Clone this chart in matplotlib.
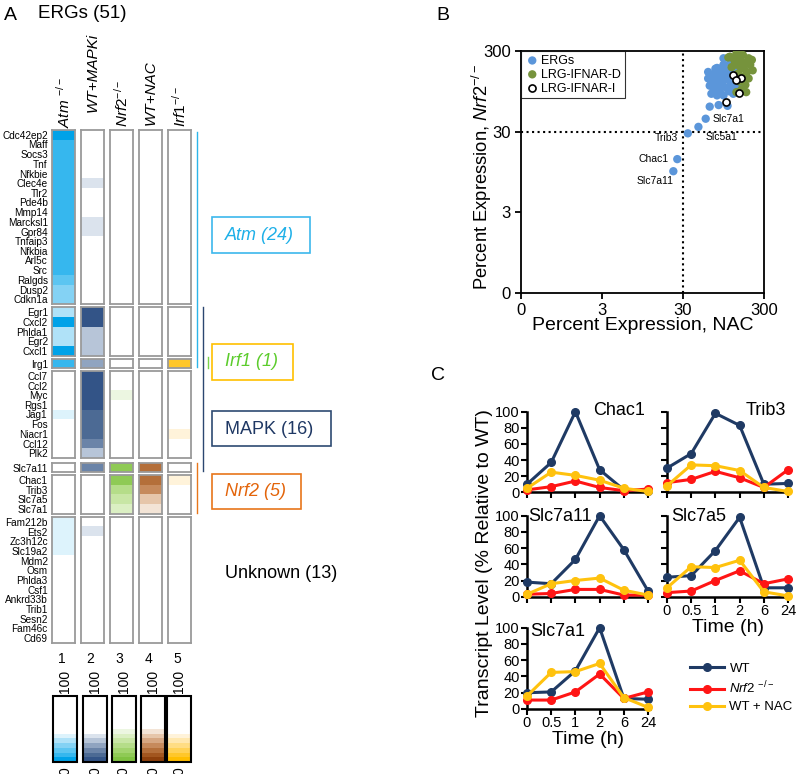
import numpy as np
import matplotlib.pyplot as plt
from matplotlib.colors import ListedColormap, Normalize
from matplotlib.cm import ScalarMappable
from matplotlib.lines import Line2D
from matplotlib.patches import Rectangle
from matplotlib.ticker import FixedLocator, NullLocator

plt.rcParams['font.family'] = ['Liberation Sans', 'DejaVu Sans']
plt.rcParams['mathtext.fontset'] = 'custom'
plt.rcParams['mathtext.rm'] = 'Liberation Sans'
plt.rcParams['mathtext.it'] = 'Liberation Sans:italic'
plt.rcParams['mathtext.bf'] = 'Liberation Sans:bold'

W, H = 800, 774
fig = plt.figure(figsize=(W/100, H/100), dpi=100)

def px_axes(x0, y0, x1, y1):
    return fig.add_axes([x0/W, 1-y1/H, (x1-x0)/W, (y1-y0)/H])

def fy(y):
    return 1 - y/H

#----------------------
# Panel A data (percent expression, 5 conditions)
cond_labels = [r'$\mathit{Atm}\ ^{-/-}$', 'WT+MAPKi', r'$\mathit{Nrf2}^{-/-}$', 'WT+NAC', r'$\mathit{Irf1}^{-/-}$']

atm_genes = ['Cdc42ep2','Maff','Socs3','Tnf','Nfkbie','Clec4e','Tlr2','Pde4b','Mmp14',
             'Marcksl1','Gpr84','Tnfaip3','Nfkbia','Arl5c','Src','Ralgds','Dusp2','Cdkn1a']
atm_vals = [[4,100,100,100,100],[9,100,100,100,100],[9,100,100,100,100],[9,100,100,100,100],
            [10,100,100,100,100],[10,40,100,100,100],[10,100,100,100,100],[10,100,100,100,100],
            [11,100,100,100,100],[11,40,100,100,100],[11,37,100,100,100],[11,100,100,100,100],
            [12,100,100,100,100],[12,100,100,100,100],[13,100,100,100,100],[18,100,100,100,100],
            [24,100,100,100,100],[27,100,100,100,100]]
mix_genes = ['Egr1','Cxcl2','Phlda1','Egr2','Cxcl1']
mix_vals = [[30,5,100,100,100],[4,5,100,100,100],[33,30,100,100,100],[30,30,100,100,100],[4,30,100,100,100]]
irg_genes = ['Irg1']
irg_vals = [[10,22,100,100,8]]
mapk_genes = ['Ccl7','Ccl2','Myc','Rgs1','Jag1','Fos','Niacr1','Ccl12','Plk2']
mapk_vals = [[100,5,100,100,100],[100,5,100,100,100],[100,5,49,100,100],[100,6,100,100,100],
             [40,10,100,100,100],[100,10,100,100,100],[100,10,100,100,41],[100,20,100,100,100],
             [100,30,100,100,100]]
slc11_genes = ['Slc7a11']
slc11_vals = [[100,20,9,18,100]]
nrf_genes = ['Chac1','Trib3','Slc7a5','Slc7a1']
nrf_vals = [[100,100,9,16,41],[100,100,22,28,100],[100,100,30,36,100],[100,100,38,46,100]]
unk_genes = ['Fam212b','Ets2','Zc3h12c','Slc19a2','Mdm2','Osm','Phlda3','Csf1','Ankrd33b',
             'Trib1','Sesn2','Fam46c','Cd69']
unk_vals = [[36,100,100,100,100],[36,38,100,100,100],[40,100,100,100,100],[40,100,100,100,100],
            [100,100,100,100,100],[100,43,100,100,100]] + [[100,100,100,100,100]]*7

groups = [(atm_genes, atm_vals, 130, 304), (mix_genes, mix_vals, 307, 356),
          (irg_genes, irg_vals, 359, 368), (mapk_genes, mapk_vals, 371, 458),
          (slc11_genes, slc11_vals, 463, 472), (nrf_genes, nrf_vals, 475, 514),
          (unk_genes, unk_vals, 517, 643)]

band_colors = [
    ['#00a2e8','#36b7ee','#5cc5f1','#84d2f4','#b0e2f8','#ddf3fc'],
    ['#335487','#4c6a94','#6b84a8','#90a4c0','#b7c5d8','#dbe3ed'],
    ['#7fc241','#8fca55','#a2d46e','#b5dd89','#c8e6a5','#dbefc3','#ecf6e1'],
    ['#8e400c','#a2561f','#b46f3a','#c68a5c','#d6a782','#e6c6aa','#f3e4d6'],
    ['#ffbe00','#ffc72a','#ffd256','#ffdd84','#ffe8b0','#fff3da'],
]
cmaps = [ListedColormap(b + ['white']*(14-len(b))) for b in band_colors]
norm = Normalize(0, 100)

col_left = [52, 81, 110, 139, 168]
col_w = 23

for genes, vals, y0, y1 in groups:
    arr = np.array(vals, dtype=float)
    for c in range(5):
        ax = px_axes(col_left[c], y0, col_left[c]+col_w, y1)
        ax.imshow(arr[:, c:c+1], cmap=cmaps[c], norm=norm, aspect='auto', interpolation='nearest')
        ax.set_xticks([])
        if c == 0:
            ax.set_yticks(range(len(genes)))
            ax.set_yticklabels(genes, fontsize=7.2)
            ax.tick_params(axis='y', length=0, pad=3)
        else:
            ax.set_yticks([])
        for s in ax.spines.values():
            s.set_color('#9a9a9a')
            s.set_linewidth(1.3)

# column headers
label_bottom = [128, 112, 127, 125, 127]
for c in range(5):
    fig.text((col_left[c]+col_w/2)/W, fy(label_bottom[c]), cond_labels[c], rotation=90,
             ha='center', va='bottom', fontsize=11, style='italic')
    fig.text((col_left[c]+col_w/2-2)/W, fy(659), str(c+1), ha='center', va='center', fontsize=10)

fig.text(10/W, fy(16), 'A', ha='center', va='center', fontsize=14)
fig.text(38/W, fy(14), 'ERGs (51)', ha='left', va='center', fontsize=13.5)

# colour scales
cb_left = [53, 83, 112, 141, 167]
for c in range(5):
    cax = px_axes(cb_left[c], 696, cb_left[c]+24, 762)
    cb = fig.colorbar(ScalarMappable(norm=norm, cmap=cmaps[c]), cax=cax)
    cb.set_ticks([])
    cb.outline.set_linewidth(1.5)
    cb.outline.set_edgecolor('black')
    fig.text((cb_left[c]+12)/W, fy(681), '100', rotation=90, ha='center', va='center', fontsize=10)
    fig.text((cb_left[c]+12)/W, fy(771), '0', rotation=90, ha='center', va='center', fontsize=10)

# group brackets and labels
def vline(x, y0, y1, color):
    fig.add_artist(Line2D([x/W, x/W], [fy(y0), fy(y1)], transform=fig.transFigure, color=color, lw=1))

def box(x0, y0, x1, y1, color):
    fig.add_artist(Rectangle((x0/W, fy(y1)), (x1-x0)/W, (y1-y0)/H, transform=fig.transFigure,
                             fill=False, edgecolor=color, lw=1.2))

vline(197, 132, 367, '#2cb5ea')
vline(203, 307, 471, '#2b4670')
vline(208, 357, 368, '#7ad34a')
vline(197, 463, 513, '#e8761a')

box(212, 217, 310, 253, '#3cb8ec')
fig.text(225/W, fy(235), 'Atm (24)', color='#1fb0e8', style='italic', fontsize=13, va='center')
box(212, 344, 293, 380, '#ffc000')
fig.text(225/W, fy(362), 'Irf1 (1)', color='#5ccc2c', style='italic', fontsize=13, va='center')
box(212, 411, 331, 446, '#2e4a72')
fig.text(225/W, fy(429), 'MAPK (16)', color='#1f3864', fontsize=13, va='center')
box(212, 474, 301, 509, '#e8761a')
fig.text(225/W, fy(492), 'Nrf2 (5)', color='#e3640a', style='italic', fontsize=13, va='center')
fig.text(225/W, fy(573), 'Unknown (13)', color='black', fontsize=13, va='center')

#----------------------
# Panel B data (percent expression)
erg_nac = [22.8,25.5,34.4,46.5,57.2,64.1,82.6,106.4,67.2,86.5,77.1,90.6,108.9,70.3,61.3,99.3,119.4,
           137.1,78.9,94.9,114.1,61.3,75.4,88.5,143.6,131.0,150.4,125.1,116.7,104.0,86.5,94.9,150.4,
           94.9,75.4,67.2,82.6,101.6,72.0,111.5,125.1,84.5,64.1,94.9,78.9,134.0,106.4,90.6,75.4,
           114.1,68.7]
erg_nrf2 = [9.7,13.7,28.6,34.4,43.4,61.3,64.1,62.7,88.5,90.6,111.5,125.1,131.0,140.3,137.1,143.6,
            150.4,164.9,185.0,202.8,212.4,164.9,157.4,153.9,111.5,104.0,92.7,88.5,116.7,104.0,108.9,
            84.5,125.1,243.8,180.8,119.4,131.0,168.7,99.3,94.9,119.4,180.8,111.5,108.9,84.5,137.1,
            150.4,143.6,125.1,176.6,150.4]
lrgd_nac = [150.4,137.1,164.9,193.7,125.1,108.9,150.4,176.6,202.8,137.1,119.4,157.4,185.0,143.6,
            164.9,193.7,150.4,176.6,157.4,137.1,180.8,114.1,212.4,131.0,168.7,143.6,217.4,161.1]
lrgd_nrf2 = [293.0,280.0,267.4,243.8,243.8,249.5,232.8,212.4,202.8,202.8,189.3,180.8,164.9,157.4,
             143.6,137.1,125.1,114.1,99.3,92.7,92.7,255.3,232.8,222.4,189.3,267.4,172.6,217.4]
lrgi_nac = [125.1,153.9,134.0,146.9,101.6]
lrgi_nrf2 = [150.4,140.3,131.0,90.6,70.3]
named_idx = [0, 1, 2, 3, 4]
named_txt = ['Slc7a11', 'Chac1', 'Trib3', 'Slc5a1', 'Slc7a1']

axb = px_axes(521, 51, 764, 293)
axb.set_xscale('log')
axb.set_yscale('log')
axb.scatter(erg_nac, erg_nrf2, s=36, color='#5b96da', edgecolors='none', label='ERGs', zorder=3)
axb.scatter(lrgd_nac, lrgd_nrf2, s=36, color='#76933c', edgecolors='none', label='LRG-IFNAR-D', zorder=3)
axb.scatter(lrgi_nac, lrgi_nrf2, s=26, facecolors='white', edgecolors='black', linewidths=1.2,
            label='LRG-IFNAR-I', zorder=4)
axb.axvline(30, color='black', ls=':', lw=1.5, zorder=2)
axb.axhline(30, color='black', ls=':', lw=1.5, zorder=2)
offs = [(-13, -7, 'center'), (-6, 0, 'right'), (-7, -3, 'right'), (5, -7, 'left'), (5, 0, 'left')]
for i, t, (dx, dy, ha) in zip(named_idx, named_txt, offs):
    axb.annotate(t, (erg_nac[i], erg_nrf2[i]), xytext=(dx, dy), textcoords='offset points',
                 ha=ha, va='center', fontsize=7.5)
axb.set_xlim(0.3, 300)
axb.set_ylim(0.3, 300)
for axis in (axb.xaxis, axb.yaxis):
    axis.set_major_locator(FixedLocator([0.3, 3, 30, 300]))
    axis.set_minor_locator(NullLocator())
axb.set_xticklabels(['0', '3', '30', '300'])
axb.set_yticklabels(['0', '3', '30', '300'])
axb.tick_params(labelsize=12, width=1.3, length=4)
for s in axb.spines.values():
    s.set_linewidth(1.3)
axb.set_xlabel('Percent Expression, NAC', fontsize=14)
axb.set_ylabel(r'Percent Expression, $\mathit{Nrf2}^{-/-}$', fontsize=13.2)
axb.xaxis.set_label_coords(0.5, -0.1)
axb.yaxis.set_label_coords(-0.112, 0.48)
axb.legend(loc='upper left', fontsize=9, frameon=True, fancybox=False, edgecolor='black',
           borderaxespad=0, handletextpad=0.1, borderpad=0.3, labelspacing=0.15, handlelength=1.2)
axb.get_legend().get_frame().set_linewidth(0.8)
fig.text(443/W, fy(16), 'B', ha='center', va='center', fontsize=14)

#----------------------
# Panel C data (% relative to WT)
times = ['0', '0.5', '1', '2', '6', '24']
genes_c = ['Chac1', 'Trib3', 'Slc7a11', 'Slc7a5', 'Slc7a1']
wt = {'Chac1': [10, 37, 100, 28, 3, 2], 'Trib3': [30, 48, 98, 83, 10, 11],
      'Slc7a11': [18, 16, 46, 100, 58, 7], 'Slc7a5': [24, 26, 57, 98, 11, 11],
      'Slc7a1': [20, 21, 47, 100, 13, 12]}
nrf2_ko = {'Chac1': [3, 7, 14, 6, 2, 4], 'Trib3': [12, 16, 26, 18, 6, 28],
           'Slc7a11': [3, 4, 9, 9, 2, 2], 'Slc7a5': [5, 7, 20, 32, 16, 22],
           'Slc7a1': [11, 11, 21, 43, 13, 21]}
wt_nac = {'Chac1': [5, 25, 21, 15, 5, 1], 'Trib3': [8, 34, 33, 27, 6, 1],
          'Slc7a11': [3, 16, 20, 23, 8, 2], 'Slc7a5': [11, 37, 36, 45, 6, 1],
          'Slc7a1': [16, 45, 46, 56, 14, 2]}

c_wt, c_ko, c_nac = '#1f3a64', '#ff1515', '#ffc20e'
boxes_c = {'Chac1': (526.5, 411.7, 650, 492.3), 'Trib3': (666.5, 411.7, 790, 492.3),
           'Slc7a11': (526.5, 515.7, 650, 596.7), 'Slc7a5': (666.5, 515.7, 790, 596.7),
           'Slc7a1': (526.5, 627.7, 650, 709)}
title_pos = {'Chac1': (0.75, 1.02, 'center'), 'Trib3': (0.97, 1.02, 'right'),
             'Slc7a11': (0.01, 0.99, 'left'), 'Slc7a5': (0.04, 0.99, 'left'),
             'Slc7a1': (0.03, 0.95, 'left')}
x = np.arange(len(times))
for g in genes_c:
    ax = px_axes(*boxes_c[g])
    for series, col in ((wt, c_wt), (nrf2_ko, c_ko), (wt_nac, c_nac)):
        ax.plot(x, series[g], color=col, lw=2.2, marker='o', ms=5.5, clip_on=False, zorder=3)
    ax.set_xlim(-0.02, 5.08)
    ax.set_ylim(0, 100)
    ax.set_xticks(x)
    ax.set_yticks([0, 20, 40, 60, 80, 100])
    ax.spines['top'].set_visible(False)
    ax.spines['right'].set_visible(False)
    ax.spines['left'].set_linewidth(1.8)
    ax.spines['bottom'].set_linewidth(1.8)
    ax.tick_params(width=1.5, length=4, labelsize=10.5, pad=1)
    if g in ('Slc7a5', 'Slc7a1'):
        ax.set_xticklabels(times)
        ax.set_xlabel('Time (h)', fontsize=14, labelpad=1)
    else:
        ax.set_xticklabels([])
    if g in ('Trib3', 'Slc7a5'):
        ax.set_yticklabels([])
    tx, ty, ha = title_pos[g]
    ax.text(tx, ty, g, transform=ax.transAxes, ha=ha, va='center', fontsize=13)

fig.text(485/W, fy(563), 'Transcript Level (% Relative to WT)', rotation=90,
         ha='center', va='center', fontsize=14)
handles = [Line2D([], [], color=c, lw=2.2, marker='o', ms=5.5) for c in (c_wt, c_ko, c_nac)]
fig.legend(handles, ['WT', r'$\mathit{Nrf2}$ $^{-/-}$', 'WT + NAC'], loc='center left',
           bbox_to_anchor=(678/W, fy(688)), frameon=False, fontsize=9.5, handlelength=2.6,
           handletextpad=0.4, labelspacing=0.35)
fig.text(438/W, fy(375), 'C', ha='center', va='center', fontsize=14)

plt.savefig('out.png', dpi=100)
